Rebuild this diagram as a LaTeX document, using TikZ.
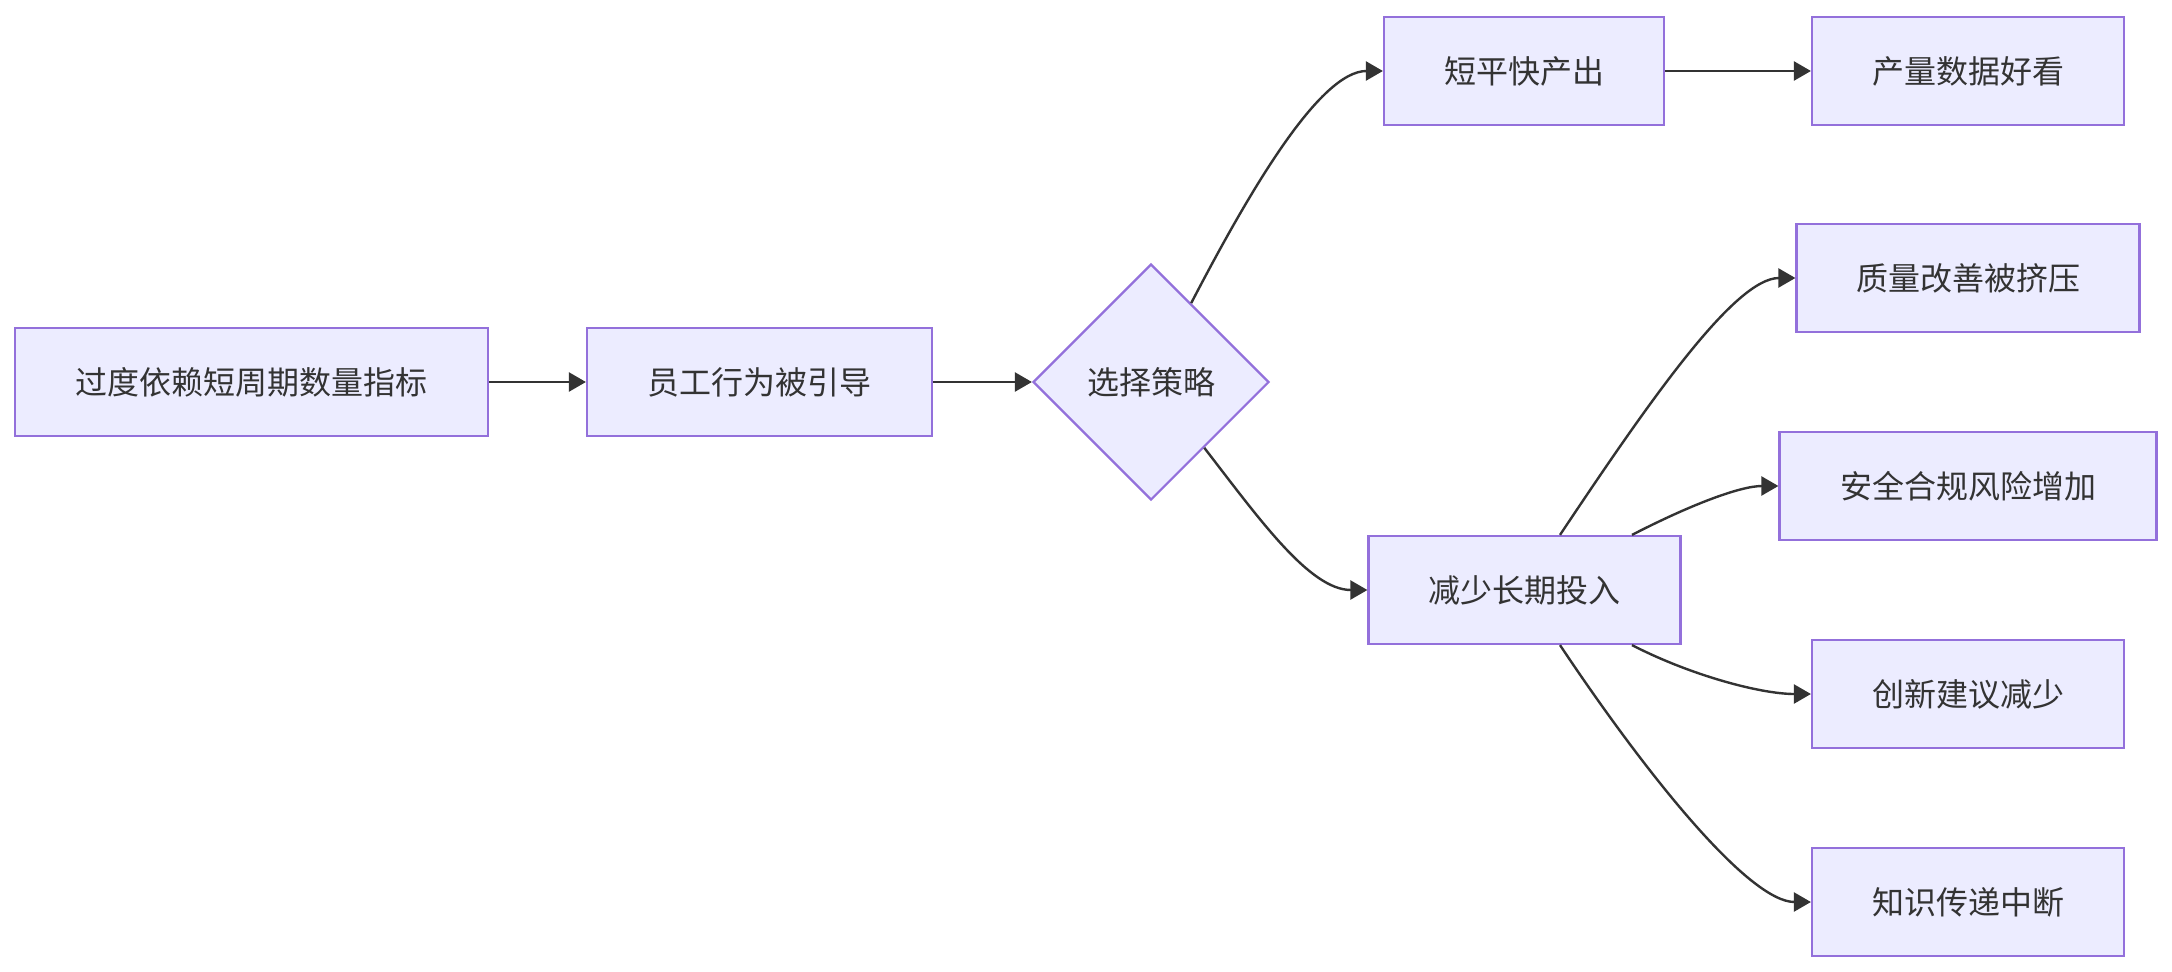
\documentclass[tikz,border=0pt]{standalone}
\usepackage{fontspec}
\setmainfont{Noto Sans CJK SC}
\usetikzlibrary{arrows.meta,shapes.geometric}
\definecolor{nodefill}{HTML}{ECECFF}
\definecolor{nodeline}{HTML}{9370DB}
\definecolor{edgeline}{HTML}{333333}
\begin{document}
\begin{tikzpicture}[x=1pt,y=-1pt,
  box/.style={draw=nodeline,fill=nodefill,line width=2.2pt,minimum height=108pt,inner sep=0pt,text=edgeline,font=\fontsize{32}{38}\selectfont},
  dia/.style={draw=nodeline,fill=nodefill,line width=2.2pt,diamond,aspect=1,minimum width=236pt,minimum height=236pt,inner sep=0pt,text=edgeline,font=\fontsize{32}{38}\selectfont},
  conn/.style={draw=edgeline,line width=2.4pt,-{Triangle[length=17pt,width=19pt]}}]
\useasboundingbox (0,0) rectangle (2172,972);
\fill[white] (0,0) rectangle (2172,972);
\node[box,minimum width=473pt] (A) at (251.5,382) {过度依赖短周期数量指标};
\node[box,minimum width=345pt] (B) at (759.5,382) {员工行为被引导};
\node[dia] (C) at (1151,382) {选择策略};
\node[box,minimum width=280pt] (D) at (1524,71) {短平快产出};
\node[box,minimum width=312pt] (E) at (1968,71) {产量数据好看};
\node[box,minimum width=312pt] (F) at (1524.5,590) {减少长期投入};
\node[box,minimum width=343pt] (G) at (1968,278) {质量改善被挤压};
\node[box,minimum width=377pt] (H) at (1968,486) {安全合规风险增加};
\node[box,minimum width=312pt] (I) at (1968,694) {创新建议减少};
\node[box,minimum width=312pt] (J) at (1968,902) {知识传递中断};
\draw[conn] (A) -- (B);
\draw[conn] (B) -- (C);
\draw[conn] (C.63) .. controls (1250,190) and (1320,71) .. (D.west);
\draw[conn] (C.-51) .. controls (1260,520) and (1310,590) .. (F.west);
\draw[conn] (D) -- (E);
\draw[conn] ([xshift=35.5pt]F.north) .. controls (1650,400) and (1735,278) .. (G.west);
\draw[conn] ([xshift=107.5pt]F.north) .. controls (1690,505) and (1740,486) .. (H.west);
\draw[conn] ([xshift=107.5pt]F.south) .. controls (1690,675) and (1760,694) .. (I.west);
\draw[conn] ([xshift=35.5pt]F.south) .. controls (1650,780) and (1750,902) .. (J.west);
\end{tikzpicture}
\end{document}
